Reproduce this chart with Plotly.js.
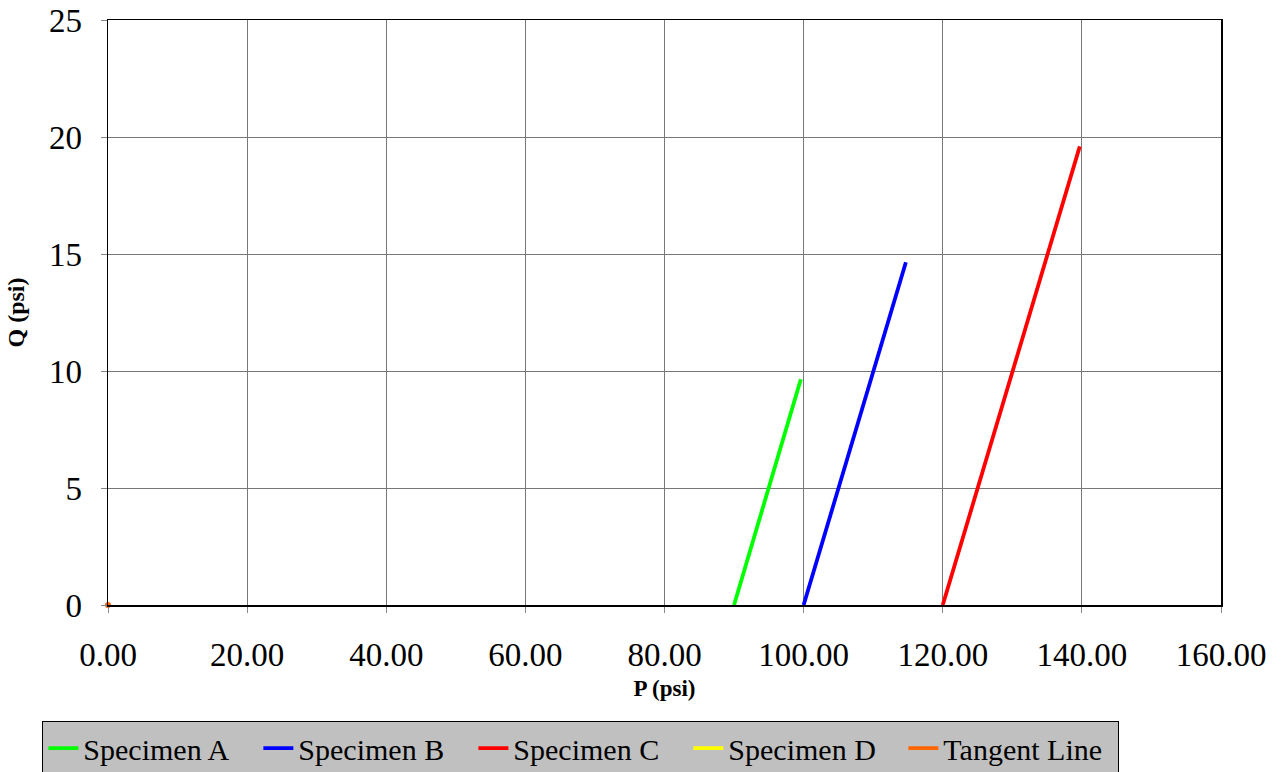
<!DOCTYPE html>
<html>
<head>
<meta charset="utf-8">
<script src="https://cdn.plot.ly/plotly-3.0.1.min.js"></script>
<style>html,body{margin:0;padding:0;background:#fff;}#chart{width:1284px;height:772px;}</style>
</head>
<body>
<div id="chart"></div>
<script>
const specA_P = [90.0, 94.8, 99.6];
const specA_Q = [0, 4.82, 9.65];
const specB_P = [100.0, 107.35, 114.7];
const specB_Q = [0, 7.32, 14.65];
const specC_P = [120.0, 129.85, 139.7];
const specC_Q = [0, 9.8, 19.6];
const specD_P = [0];
const specD_Q = [0];
const tangent_P = [0];
const tangent_Q = [0];
const names = ['Specimen A', 'Specimen B', 'Specimen C', 'Specimen D', 'Tangent Line'];
const colors = ['#00ff00', '#0000ff', '#ff0000', '#ffff00', '#ff6600'];
const xTickVals = [0, 20, 40, 60, 80, 100, 120, 140, 160];
const yTickVals = [0, 5, 10, 15, 20, 25];

const series = [[specA_P, specA_Q], [specB_P, specB_Q], [specC_P, specC_Q], [specD_P, specD_Q], [tangent_P, tangent_Q]];
const traces = series.map((s, i) => ({
  x: s[0], y: s[1], name: names[i], type: 'scatter', mode: 'lines',
  line: {color: colors[i], width: 3.8}, hoverinfo: 'skip'
}));
traces.push({x: tangent_P, y: tangent_Q, type: 'scatter', mode: 'markers', showlegend: false,
  marker: {color: colors[4], size: 6}, hoverinfo: 'skip', cliponaxis: false});

const serif = 'Liberation Serif';
const layout = {
  width: 1284, height: 772,
  margin: {l: 108, r: 63, t: 20, b: 167, autoexpand: false},
  paper_bgcolor: '#ffffff', plot_bgcolor: '#ffffff',
  showlegend: true,
  legend: {orientation: 'h', xref: 'container', yref: 'container', x: 0.033, y: 0.066,
    xanchor: 'left', yanchor: 'top',
    bgcolor: '#c0c0c0', bordercolor: '#000000', borderwidth: 1,
    font: {family: serif, size: 30, color: '#000'}, itemwidth: 30, tracegroupgap: 0,
    entrywidth: 170, entrywidthmode: 'pixels'},
  xaxis: {range: [0, 160], tickvals: xTickVals, tickformat: '.2f',
    showgrid: true, gridcolor: '#777777', gridwidth: 1,
    showline: true, linecolor: '#000', linewidth: 1.5, mirror: true,
    zeroline: false, ticks: 'outside', ticklen: 6, tickcolor: '#888',
    ticklabelstandoff: 14,
    tickfont: {family: serif, size: 33, color: '#000'},
    title: {text: '<b>P (psi)</b>', font: {family: serif, size: 23, color: '#000'}, standoff: 8}},
  yaxis: {range: [0, 25], tickvals: yTickVals,
    showgrid: true, gridcolor: '#777777', gridwidth: 1,
    showline: true, linecolor: '#000', linewidth: 1.5, mirror: true,
    zeroline: true, zerolinecolor: '#000', zerolinewidth: 2.5,
    ticks: 'outside', ticklen: 6, tickcolor: '#888',
    ticklabelstandoff: 12,
    tickfont: {family: serif, size: 33, color: '#000'},
    title: {text: '<b>Q (psi)</b>', font: {family: serif, size: 24, color: '#000'}, standoff: 17}}
};
Plotly.newPlot('chart', traces, layout, {displayModeBar: false, staticPlot: true});
</script>
</body>
</html>
